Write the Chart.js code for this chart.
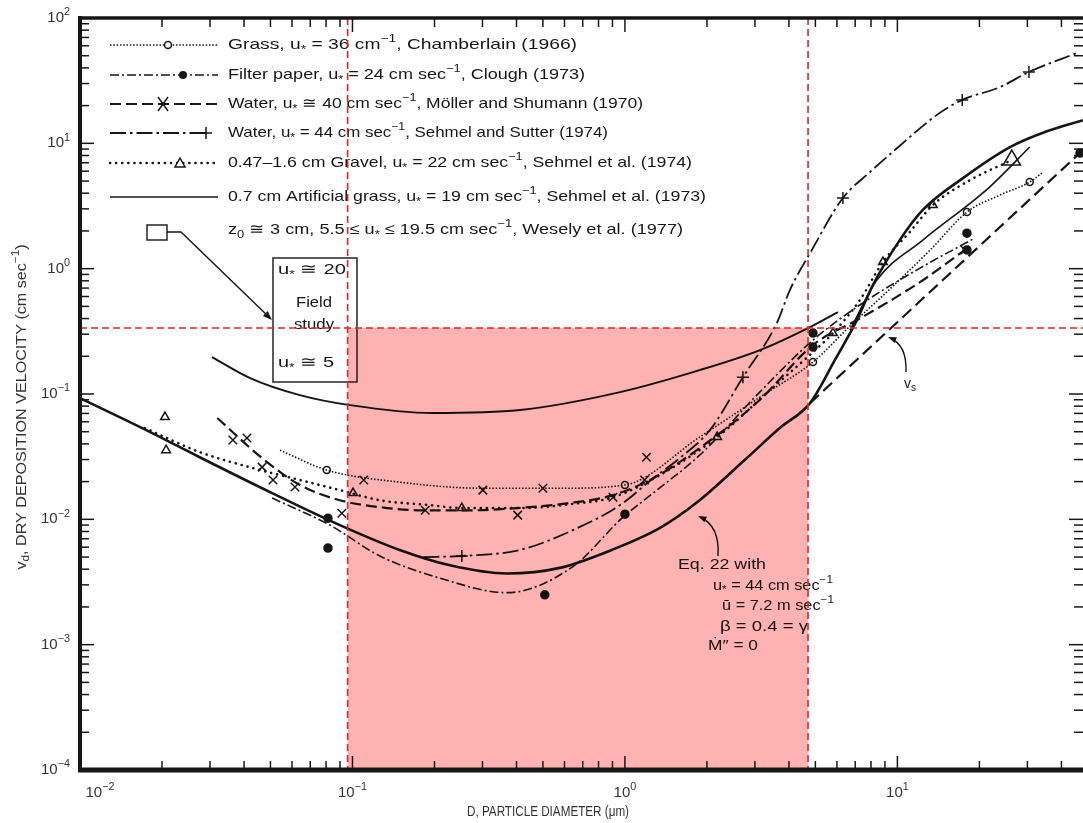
<!DOCTYPE html>
<html lang="en">
<head>
<meta charset="UTF-8" />
<title>Dry deposition velocity vs particle diameter</title>
<script src="https://cdn.jsdelivr.net/npm/chart.js"></script>
<style>
  html, body { margin: 0; padding: 0; background: #fff; overflow: hidden; }
  #wrap { width: 1083px; height: 823px; overflow: hidden; }
  canvas { display: block; }
</style>
</head>
<body>
<div id="wrap"><canvas id="chart" width="1083" height="823"></canvas></div>
<script>
// values: x = particle diameter (um), y = v_d (cm/s)

// Eq. 22 with u* = 44 (bold solid)
const eq22X = [0.01, 0.0181, 0.0275, 0.0507, 0.0899, 0.149, 0.228, 0.369, 0.577, 0.895, 1.34, 1.88, 2.75, 3.70, 4.78, 5.90, 7.10, 8.13, 10.2, 12.4, 17.4, 25.9, 35.4, 48];
const eq22Y = [0.0927, 0.0497, 0.0313, 0.0162, 0.0090, 0.0057, 0.0043, 0.0037, 0.0041, 0.0057, 0.0085, 0.0142, 0.0297, 0.0535, 0.0846, 0.187, 0.389, 0.740, 1.69, 2.94, 5.28, 9.34, 12.5, 15.3];

// Wesely field study (solid)
const fieldX = [0.0305, 0.0421, 0.0641, 0.098, 0.197, 0.412, 0.960, 1.88, 3.13, 4.78, 6.05];
const fieldY = [0.197, 0.134, 0.098, 0.0815, 0.0705, 0.0745, 0.1035, 0.155, 0.224, 0.342, 0.451];

// 0.7 cm artificial grass, Sehmel 1973 (thin solid)
const artX = [6.70, 8.41, 12.4, 21.8, 30.6];
const artY = [0.324, 0.811, 1.69, 4.48, 9.34];

// Grass, Chamberlain 1966 (fine dotted, open circles)
const chamX = [0.0542, 0.0805, 0.149, 0.301, 0.577, 1.0, 1.88, 3.13, 4.90, 6.70, 9.38, 13.2, 18.0, 23.8, 30.6, 33.9];
const chamY = [0.0356, 0.0247, 0.0198, 0.0177, 0.0177, 0.0188, 0.0453, 0.0945, 0.180, 0.348, 0.687, 1.41, 2.83, 3.87, 4.91, 5.79];
const chamPtX = [0.0805, 1.0, 4.90, 18.0, 30.6];
const chamPtY = [0.0247, 0.0188, 0.180, 2.83, 4.91];

// Filter paper, Clough 1973 (dash-dot, filled circles)
const cloughX = [0.0507, 0.0826, 0.126, 0.209, 0.369, 0.644, 0.984, 1.27, 1.88, 3.13, 4.90, 7.28, 12.1, 19.2];
const cloughY = [0.0148, 0.0090, 0.0051, 0.0034, 0.0026, 0.0042, 0.0104, 0.0162, 0.0325, 0.104, 0.269, 0.513, 1.01, 1.75];
const cloughPtX = [0.0813, 0.0813, 0.508, 1.0, 4.90, 4.90, 18.0, 18.0, 46.8];
const cloughPtY = [0.0102, 0.0059, 0.0025, 0.0110, 0.306, 0.237, 1.92, 1.41, 8.37];

// Water u* ~ 40, Moller and Shumann 1970 (long dashes, X)
const mollerX = [0.0319, 0.0466, 0.0641, 0.0899, 0.126, 0.182, 0.270, 0.402, 0.628, 0.904, 1.27, 1.88, 3.13, 4.90, 7.28, 12.1, 17.7];
const mollerY = [0.0643, 0.0308, 0.0188, 0.0142, 0.0125, 0.0118, 0.0118, 0.0123, 0.0135, 0.0156, 0.0213, 0.0370, 0.090, 0.246, 0.40, 0.78, 1.41];
const mollerPtX = [0.0364, 0.0410, 0.0466, 0.0511, 0.0615, 0.0914, 0.110, 0.185, 0.301, 0.404, 0.500, 0.904, 1.18, 1.20, 17.7];
const mollerPtY = [0.0429, 0.0445, 0.0261, 0.0206, 0.0181, 0.0112, 0.0206, 0.0118, 0.0171, 0.0108, 0.0177, 0.0150, 0.0206, 0.0313, 1.41];

// Water u* = 44, Sehmel and Sutter 1974 (dash-dot, +)
const sutterX = [0.182, 0.252, 0.412, 0.644, 0.960, 1.27, 1.59, 2.05, 2.71, 3.61, 4.03, 4.78, 6.31, 7.93, 9.79, 14.3, 17.3, 23.8, 30.4, 45.6];
const sutterY = [0.0050, 0.0051, 0.0057, 0.0082, 0.0130, 0.0213, 0.0308, 0.0515, 0.136, 0.368, 0.675, 1.33, 3.66, 5.90, 8.85, 17.5, 22.2, 28.1, 37.1, 52.6];
const sutterPtX = [0.252, 2.71, 6.31, 17.3, 30.4];
const sutterPtY = [0.0051, 0.136, 3.66, 22.2, 37.1];

// 0.47-1.6 cm gravel, Sehmel 1974 (dotted, triangles)
const gravelX = [0.0173, 0.0275, 0.0432, 0.0641, 0.0899, 0.126, 0.192, 0.252, 0.412, 0.628, 0.904, 1.34, 2.18, 3.40, 4.90, 5.80, 7.28, 8.85, 11.1, 13.5, 18.5, 26.3];
const gravelY = [0.0535, 0.0344, 0.0256, 0.0206, 0.0171, 0.0142, 0.0130, 0.0123, 0.0123, 0.0132, 0.0150, 0.0225, 0.0453, 0.107, 0.216, 0.306, 0.561, 1.13, 1.96, 3.22, 5.09, 7.36];
const gravelPtX = [0.0205, 0.0207, 0.1005, 0.252, 2.18, 5.80, 8.85, 13.5, 26.3];
const gravelPtY = [0.0654, 0.0356, 0.0162, 0.0123, 0.0453, 0.306, 1.13, 3.22, 7.36];

// settling velocity v_s (long dashes)
const settleX = [4.78, 45.9];
const settleY = [0.0846, 8.07];

// red marked region
const shadeX = [0.096, 4.7];
const shadeTop = 0.336;

const xDecades = [-2, -1, 0, 1];
const yDecades = [-4, -3, -2, -1, 0, 1, 2];

const INK = '#161616';
const RED = '#e0242a';
const FONT = '"Liberation Sans", Arial, sans-serif';

const STY = {
  cham:   { borderWidth: 1.6, borderDash: [1.5, 1.8] },
  clough: { borderWidth: 1.6, borderDash: [9, 3, 2, 3] },
  moller: { borderWidth: 2.2, borderDash: [11, 5] },
  sutter: { borderWidth: 1.8, borderDash: [16, 4, 2.5, 4] },
  gravel: { borderWidth: 2.6, borderDash: [0.1, 6], borderCapStyle: 'round' },
  art:    { borderWidth: 1.6, borderDash: [] },
  field:  { borderWidth: 2.0, borderDash: [] },
  eq22:   { borderWidth: 2.6, borderDash: [] },
  settle: { borderWidth: 2.2, borderDash: [12, 6] }
};

function zip(xs, ys) { return xs.map((v, i) => ({ x: v, y: ys[i] })); }

function curve(xs, ys, sty) {
  return Object.assign({
    data: zip(xs, ys), borderColor: INK, pointRadius: 0, fill: false,
    cubicInterpolationMode: 'monotone', borderCapStyle: 'butt'
  }, sty);
}

function marks(xs, ys, opts) {
  return Object.assign({
    data: zip(xs, ys), showLine: false, borderColor: INK,
    pointBorderColor: INK, pointBackgroundColor: '#fff', pointBorderWidth: 1.5
  }, opts);
}

// ---- small rich text helper: _{sub} and ^{sup} ----
function parseRich(s) {
  const parts = [];
  const re = /([_^])\{([^}]*)\}/g;
  let last = 0, m;
  while ((m = re.exec(s))) {
    if (m.index > last) parts.push([s.slice(last, m.index), '']);
    parts.push([m[2], m[1]]);
    last = re.lastIndex;
  }
  if (last < s.length) parts.push([s.slice(last), '']);
  return parts;
}

function drawRich(ctx, s, x, y, o) {
  const size = o.size || 14;
  const parts = parseRich(s);
  let w = 0;
  parts.forEach(([t, mode]) => {
    ctx.font = (mode ? size * 0.72 : size) + 'px ' + FONT;
    w += ctx.measureText(t).width;
  });
  const sx = o.width ? o.width / w : 1;
  const total = w * sx;
  const x0 = o.align === 'center' ? x - total / 2 : o.align === 'right' ? x - total : x;
  ctx.save();
  ctx.translate(x0, y);
  ctx.scale(sx, 1);
  ctx.textBaseline = 'middle';
  ctx.textAlign = 'left';
  ctx.fillStyle = o.color || INK;
  let cx = 0;
  parts.forEach(([t, mode]) => {
    ctx.font = (mode ? size * 0.72 : size) + 'px ' + FONT;
    const dy = mode === '^' ? -size * 0.38 : mode === '_' ? size * 0.33 : 0;
    ctx.fillText(t, cx, dy);
    cx += ctx.measureText(t).width;
  });
  ctx.restore();
}

function seg(ctx, x1, y1, x2, y2) {
  ctx.beginPath(); ctx.moveTo(x1, y1); ctx.lineTo(x2, y2); ctx.stroke();
}

function arrowHead(ctx, x, y, ang, len) {
  ctx.beginPath();
  ctx.moveTo(x, y);
  ctx.lineTo(x - len * Math.cos(ang - 0.35), y - len * Math.sin(ang - 0.35));
  ctx.lineTo(x - len * Math.cos(ang + 0.35), y - len * Math.sin(ang + 0.35));
  ctx.closePath();
  ctx.fill();
}

function marker(ctx, kind, x, y) {
  ctx.save();
  ctx.strokeStyle = INK; ctx.fillStyle = INK; ctx.lineWidth = 1.5; ctx.setLineDash([]);
  if (kind === 'circle') {
    ctx.beginPath(); ctx.arc(x, y, 3.5, 0, Math.PI * 2); ctx.fillStyle = '#fff'; ctx.fill(); ctx.stroke();
  } else if (kind === 'dot') {
    ctx.beginPath(); ctx.arc(x, y, 4, 0, Math.PI * 2); ctx.fill();
  } else if (kind === 'x') {
    seg(ctx, x - 5, y - 7, x + 5, y + 7); seg(ctx, x + 5, y - 7, x - 5, y + 7);
  } else if (kind === 'plus') {
    seg(ctx, x - 6, y, x + 6, y); seg(ctx, x, y - 6, x, y + 6);
  } else if (kind === 'tri') {
    ctx.beginPath(); ctx.moveTo(x, y - 5); ctx.lineTo(x + 5, y + 4); ctx.lineTo(x - 5, y + 4); ctx.closePath();
    ctx.fillStyle = '#fff'; ctx.fill(); ctx.stroke();
  }
  ctx.restore();
}

const legendItems = [
  { text: 'Grass, u_{*} = 36 cm^{−1}, Chamberlain (1966)', sty: STY.cham, mark: 'circle', mx: 168, y: 45, w: 349 },
  { text: 'Filter paper, u_{*} = 24 cm sec^{−1}, Clough (1973)', sty: STY.clough, mark: 'dot', mx: 183, y: 75, w: 357 },
  { text: 'Water, u_{*} ≅ 40 cm sec^{−1}, Möller and Shumann (1970)', sty: STY.moller, mark: 'x', mx: 163, y: 104, w: 415 },
  { text: 'Water, u_{*} = 44 cm sec^{−1}, Sehmel and Sutter (1974)', sty: STY.sutter, mark: 'plus', mx: 206, y: 133, w: 380, end: 208 },
  { text: '0.47–1.6 cm Gravel, u_{*} = 22 cm sec^{−1}, Sehmel et al. (1974)', sty: STY.gravel, mark: 'tri', mx: 180, y: 163, w: 464 },
  { text: '0.7 cm Artificial grass, u_{*} = 19 cm sec^{−1}, Sehmel et al. (1973)', sty: STY.art, mark: null, mx: 0, y: 197, w: 478 },
  { text: 'z_{0} ≅ 3 cm, 5.5 ≤ u_{*} ≤ 19.5 cm sec^{−1}, Wesely et al. (1977)', sty: null, mark: null, mx: 0, y: 230, w: 455 }
];

const decor = {
  id: 'decor',
  beforeDraw(chart) {
    const ctx = chart.ctx;
    ctx.save(); ctx.fillStyle = '#fff'; ctx.fillRect(0, 0, chart.width, chart.height); ctx.restore();
  },
  afterDatasetsDraw(chart) {
    const { ctx, chartArea: a, scales: { x, y } } = chart;
    const X = v => x.getPixelForValue(v), Y = v => y.getPixelForValue(v);

    ctx.save();
    ctx.strokeStyle = INK; ctx.fillStyle = INK; ctx.lineWidth = 1.4; ctx.setLineDash([]);

    // legend
    legendItems.forEach(it => {
      if (it.sty) {
        ctx.save();
        ctx.lineWidth = it.sty.borderWidth;
        ctx.setLineDash(it.sty.borderDash);
        ctx.lineCap = it.sty.borderCapStyle || 'butt';
        seg(ctx, 110, it.y, it.end || 218, it.y);
        ctx.restore();
      }
      if (it.mark) marker(ctx, it.mark, it.mx, it.y);
      drawRich(ctx, it.text, 228, it.y, { size: 15, width: it.w });
    });

    // Wesely square and pointer to the field study box
    ctx.lineWidth = 1.4;
    ctx.fillStyle = '#fff';
    ctx.fillRect(147, 225, 20, 15); ctx.strokeRect(147, 225, 20, 15);
    ctx.fillStyle = INK;
    ctx.beginPath(); ctx.moveTo(167, 232); ctx.lineTo(181, 232); ctx.lineTo(270, 318); ctx.stroke();
    arrowHead(ctx, 272, 320, Math.atan2(88, 91), 10);

    // field study box
    ctx.fillStyle = '#fff';
    ctx.fillRect(273, 258, 84, 124);
    ctx.strokeRect(273, 258, 84, 124);
    drawRich(ctx, 'u_{*} ≅ 20', 278, 270, { size: 15, width: 68 });
    drawRich(ctx, 'Field', 314, 303, { size: 15, align: 'center', width: 36 });
    drawRich(ctx, 'study', 314, 325, { size: 15, align: 'center', width: 40 });
    drawRich(ctx, 'u_{*} ≅ 5', 278, 363, { size: 15, width: 56 });

    // Eq. 22 note
    ctx.fillStyle = INK;
    ctx.beginPath(); ctx.moveTo(718, 556); ctx.quadraticCurveTo(720, 526, 700, 517); ctx.stroke();
    arrowHead(ctx, 698, 516, Math.atan2(-9, -20), 9);
    drawRich(ctx, 'Eq. 22 with', 678, 565, { size: 14, width: 88 });
    drawRich(ctx, 'u_{*} = 44 cm sec^{−1}', 713, 586, { size: 14, width: 120 });
    drawRich(ctx, 'ū = 7.2 m sec^{−1}', 722, 606, { size: 14, width: 112 });
    drawRich(ctx, 'β = 0.4 = γ', 720, 627, { size: 14, width: 88 });
    drawRich(ctx, 'Ṁ″ = 0', 708, 646, { size: 14, width: 50 });

    // v_s note
    ctx.beginPath(); ctx.moveTo(906, 372); ctx.quadraticCurveTo(907, 345, 890, 338); ctx.stroke();
    arrowHead(ctx, 888, 337, Math.atan2(-7, -17), 9);
    drawRich(ctx, 'v_{s}', 904, 384, { size: 14 });

    // red shaded region (multiply so black marks beneath turn dark red)
    ctx.globalCompositeOperation = 'multiply';
    ctx.fillStyle = '#ffb2b2';
    ctx.fillRect(X(shadeX[0]), Y(shadeTop), X(shadeX[1]) - X(shadeX[0]), a.bottom - Y(shadeTop));
    ctx.globalCompositeOperation = 'source-over';

    // red dashed guides
    ctx.strokeStyle = RED; ctx.lineWidth = 1.6; ctx.setLineDash([7, 4]);
    seg(ctx, X(shadeX[0]), a.top, X(shadeX[0]), a.bottom);
    seg(ctx, X(shadeX[1]), a.top, X(shadeX[1]), a.bottom);
    seg(ctx, a.left, Y(shadeTop), a.right, Y(shadeTop));
    ctx.setLineDash([]);

    // inward ticks
    ctx.strokeStyle = INK; ctx.lineWidth = 1.5;
    yDecades.forEach(e => {
      for (let m = 1; m < 10; m++) {
        const v = m * Math.pow(10, e);
        if (v > 100.001) break;
        const py = Y(v), len = m === 1 ? 14 : 9;
        seg(ctx, a.left, py, a.left + len, py);
        seg(ctx, a.right, py, a.right - len, py);
      }
    });
    xDecades.forEach(e => {
      for (let m = 1; m < 10; m++) {
        const v = m * Math.pow(10, e);
        if (v > 48) break;
        const px = X(v), len = m === 1 ? 14 : 9;
        seg(ctx, px, a.bottom, px, a.bottom - len);
        seg(ctx, px, a.top, px, a.top + len);
      }
    });

    // heavy frame
    ctx.lineWidth = 4;
    seg(ctx, a.left, a.top - 2, a.left, a.bottom + 2);
    ctx.lineWidth = 5;
    seg(ctx, a.left - 2, a.bottom, a.right, a.bottom);
    ctx.lineWidth = 3.5;
    seg(ctx, a.left - 2, a.top, a.right, a.top);

    // tick labels
    yDecades.forEach(e => {
      drawRich(ctx, '10^{' + String(e).replace('-', '−') + '}', 70, Y(Math.pow(10, e)), { size: 15, align: 'right', color: '#333' });
    });
    xDecades.forEach(e => {
      const px = Math.max(X(Math.pow(10, e)), a.left + 20);
      drawRich(ctx, '10^{' + String(e).replace('-', '−') + '}', px, 793, { size: 15, align: 'center', color: '#333' });
    });

    // axis titles
    drawRich(ctx, 'D, PARTICLE DIAMETER (μm)', 548, 812, { size: 14, align: 'center', width: 162, color: '#333' });
    ctx.save();
    ctx.translate(22, 407);
    ctx.rotate(-Math.PI / 2);
    drawRich(ctx, 'v_{d}, DRY DEPOSITION VELOCITY (cm sec^{−1})', 0, 0, { size: 14, align: 'center', width: 325, color: '#333' });
    ctx.restore();

    ctx.restore();
  }
};

const chart = new Chart(document.getElementById('chart').getContext('2d'), {
  type: 'line',
  data: {
    datasets: [
      curve(eq22X, eq22Y, STY.eq22),
      curve(fieldX, fieldY, STY.field),
      curve(artX, artY, STY.art),
      curve(chamX, chamY, STY.cham),
      curve(cloughX, cloughY, STY.clough),
      curve(mollerX, mollerY, STY.moller),
      curve(sutterX, sutterY, STY.sutter),
      curve(gravelX, gravelY, STY.gravel),
      curve(settleX, settleY, STY.settle),
      marks(chamPtX, chamPtY, { pointStyle: 'circle', pointRadius: 3.5 }),
      marks(cloughPtX, cloughPtY, { pointStyle: 'circle', pointRadius: 4, pointBackgroundColor: INK }),
      marks(mollerPtX, mollerPtY, { pointStyle: 'crossRot', pointRadius: 6 }),
      marks(sutterPtX, sutterPtY, { pointStyle: 'cross', pointRadius: 6 }),
      marks(gravelPtX, gravelPtY, {
        pointStyle: 'triangle',
        pointRadius: c => (c.dataIndex === gravelPtX.length - 1 ? 10 : 5)
      })
    ]
  },
  options: {
    responsive: false,
    animation: false,
    events: [],
    layout: { autoPadding: false, padding: { left: 80, top: 18, right: 0, bottom: 53 } },
    scales: {
      x: { type: 'logarithmic', min: 0.01, max: 48, display: false },
      y: { type: 'logarithmic', min: 1e-4, max: 100, display: false }
    },
    plugins: { legend: { display: false }, tooltip: { enabled: false } }
  },
  plugins: [decor]
});
</script>
</body>
</html>
